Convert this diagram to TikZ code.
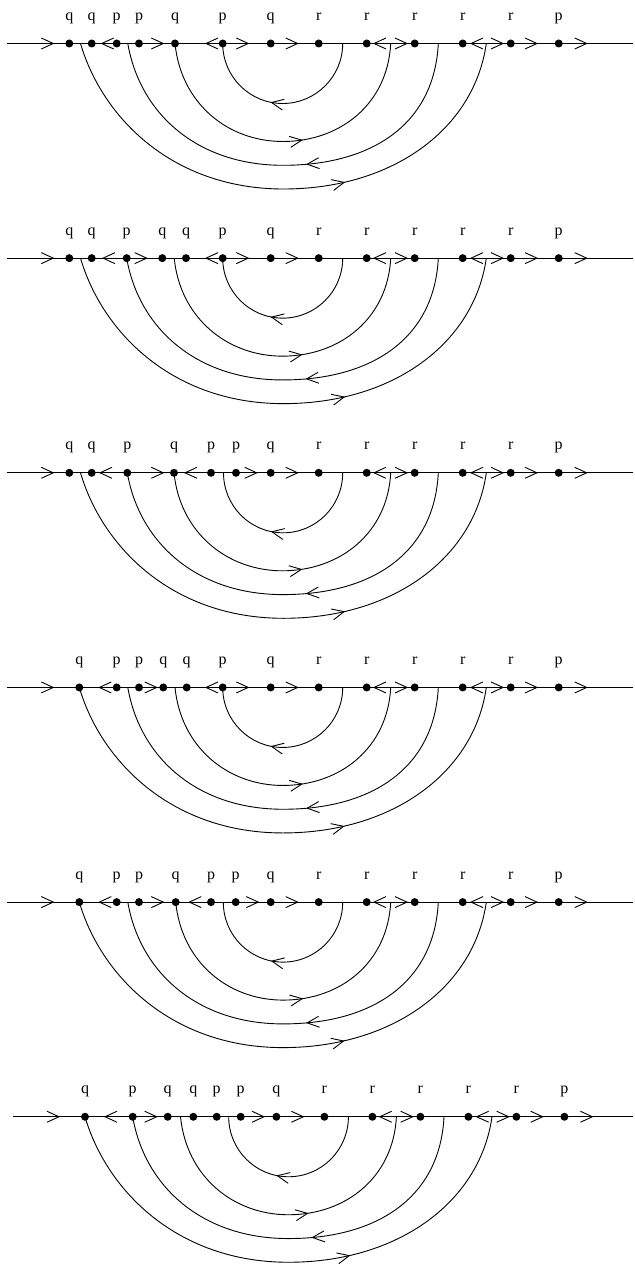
\documentclass[tikz,border=0pt]{standalone}
\usepackage{fontspec}
\setmainfont{Liberation Serif}
\begin{document}
\begin{tikzpicture}[x=1pt,y=-1pt,
  wire/.style={line width=0.9pt},
  dotn/.style={circle,fill=black,inner sep=0pt,minimum size=8pt},
  lab/.style={anchor=base,inner sep=0pt,font=\fontsize{16}{19}\selectfont},
  ra/.pic={\draw[wire] (-12,5.5) -- (0,0) -- (-12,-5.5);}
]
\useasboundingbox (0,0) rectangle (634,1265);
\newcommand\panel[9]{%
\begin{scope}[shift={(#3,#2)}]
  \coordinate (#1L) at (7.3,0);
  \coordinate (#1R) at ({633-#3},0);
  \draw[wire] (#1L) -- (#1R);
  \foreach \x/\l [count=\i] in {#4,270.7/q,318.7/r,366.7/r,414.7/r,462.7/r,510.7/r,558.7/p} {
    \node[dotn] (#1d\i) at (\x,0) {};
    \node[lab] (#1t\i) at (\x,-23) {\l};
  }
  \foreach \x/\r in {53.3/0,#5,297.7/0,374/180,407/0,471/180,503/0,537/0,586.7/0}
    \pic[rotate=\r] at (\x,0) {ra};
  % arc 1
  \coordinate (#1a1) at (#9,0);
  \coordinate (#1b1) at (342.7,0);
  \coordinate (#1m1) at ({(#9+342.7)/2},60);
  \draw[wire] (#1a1) .. controls +(0,33.1) and +(-33.1,0) .. (#1m1)
     pic[pos=0.885,sloped,rotate=180]{ra}
     .. controls +(33.1,0) and +(0,33.1) .. (#1b1);
  % arc 2
  \coordinate (#1a2) at (#8,0);
  \coordinate (#1b2) at (390.7,0);
  \coordinate (#1m2) at ({(#8+390.7)/2},98);
  \draw[wire] (#1a2) .. controls +(6,60) and +(-55,0) .. (#1m2)
     .. controls +(58,0) and +(-3,60) .. (#1b2) pic[pos=0.112,sloped]{ra};
  % arc 3
  \coordinate (#1a3) at (#7,0);
  \coordinate (#1b3) at (438.3,0);
  \coordinate (#1m3) at ({(#7+438.3)/2},121.8);
  \draw[wire] (#1a3) .. controls +(12,70) and +(-86,0) .. (#1m3)
     .. controls +(90,0) and +(-4,80) .. (#1b3) pic[pos=0.092,sloped,rotate=180]{ra};
  % arc 4
  \coordinate (#1a4) at (#6,0);
  \coordinate (#1b4) at (486.3,0);
  \coordinate (#1m4) at ({(#6+486.3)/2},145.5);
  \draw[wire] (#1a4) .. controls +(22,75) and +(-110,0) .. (#1m4)
     .. controls +(110,0) and +(-12,85) .. (#1b4) pic[pos=0.195,sloped]{ra};
\end{scope}}

\panel{A}{43.5}{0}
  {69.3/q,91.7/q,116.7/p,139/p,175/q,222.7/p}
  {101.7/180,163.3/0,206/180,248.3/0}
  {80.5}{127.8}{175}{222.7}
\panel{B}{258.15}{0}
  {69.3/q,91.7/q,126.7/p,162.3/q,186/q,222.7/p}
  {103/180,146.7/0,206/180,248.3/0}
  {80.5}{126.7}{174.2}{222.7}
\panel{C}{472.8}{0}
  {69.3/q,91.7/q,127.3/p,174/q,211/p,236/p}
  {100/180,163.3/0,185/180,256.7/0}
  {80.5}{127.3}{174}{223.5}
\panel{D}{687.45}{0}
  {79.3/q,116.7/p,139/p,163.3/q,186.7/q,222.7/p}
  {99.3/180,156.7/0,206/180,248.3/0}
  {79.3}{127.8}{175}{222.7}
\panel{E}{902.1}{0}
  {79.3/q,116.7/p,139/p,175.7/q,211/p,235.7/p}
  {99.3/180,163.3/0,189.3/180,258.3/0}
  {79.3}{127.8}{175.7}{223.3}
\panel{F}{1116.75}{5.7}
  {79.3/q,127/p,162/q,187.6/q,211/p,235/p}
  {99.3/180,151/0,258.3/0}
  {79.3}{127}{174.8}{223}
\end{tikzpicture}
\end{document}
